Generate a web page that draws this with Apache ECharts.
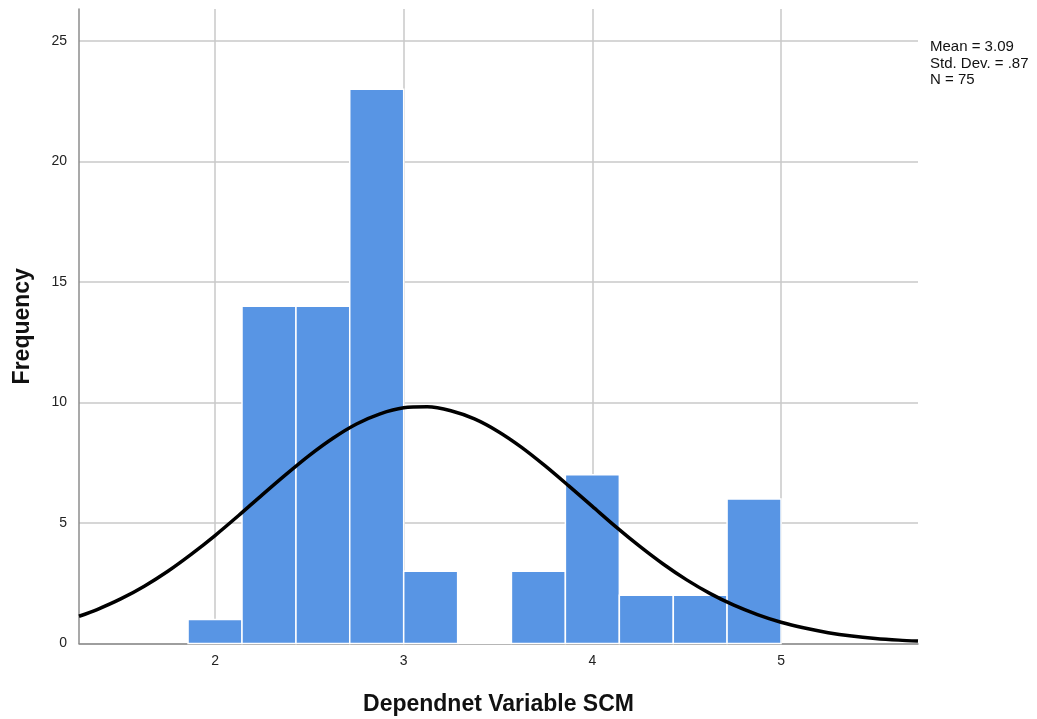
<!DOCTYPE html>
<html>
<head>
<meta charset="utf-8">
<script src="https://cdn.jsdelivr.net/npm/echarts@6/dist/echarts.min.js"></script>
<style>
  html, body { margin: 0; padding: 0; background: #fff; }
  #chart { width: 1037px; height: 719px; }
</style>
</head>
<body>
<div id="chart"></div>
<script>
// histogram bins (left edge, right edge) and counts
const binStart = [1.857, 2.143, 2.429, 2.714, 3.0, 3.286, 3.571, 3.857, 4.143, 4.429, 4.714];
const binEnd = [2.143, 2.429, 2.714, 3.0, 3.286, 3.571, 3.857, 4.143, 4.429, 4.714, 5.0];
const counts = [1, 14, 14, 23, 3, 0, 3, 7, 2, 2, 6];

// normal curve
const curveX = [1.279, 1.375, 1.5, 1.625, 1.75, 1.875, 2.0, 2.125, 2.25, 2.375, 2.5, 2.625, 2.75, 2.875, 3.0, 3.125,
  3.25, 3.375, 3.5, 3.625, 3.75, 3.875, 4.0, 4.125, 4.25, 4.375, 4.5, 4.625, 4.75, 4.875, 5.0, 5.125, 5.25, 5.375,
  5.5, 5.625, 5.726];
const curveY = [1.13, 1.41, 1.85, 2.38, 3.0, 3.71, 4.48, 5.31, 6.17, 7.01, 7.81, 8.52, 9.11, 9.53, 9.78, 9.82,
  9.66, 9.32, 8.8, 8.14, 7.37, 6.54, 5.69, 4.84, 4.04, 3.3, 2.64, 2.07, 1.59, 1.2, 0.88, 0.64, 0.45, 0.31,
  0.21, 0.14, 0.1];

const xTicks = [2, 3, 4, 5];
const yTicks = [0, 5, 10, 15, 20, 25];

const statsLines = ["Mean = 3.09", "Std. Dev. = .87", "N = 75"];

let chartInit = echarts.init(document.getElementById("chart"));

const barData = counts.map((c, i) => [binStart[i], binEnd[i], c]);
const lineData = curveX.map((x, i) => [x, curveY[i]]);

let option = {
  animation: false,
  textStyle: { fontFamily: "Liberation Sans, Arial, sans-serif" },
  grid: { left: 79, top: 9, right: 119, bottom: 75.5, outerBoundsMode: "none" },
  xAxis: {
    type: "value",
    min: 1.279,
    max: 5.726,
    name: "Dependnet Variable SCM",
    nameLocation: "middle",
    nameGap: 50,
    nameTextStyle: { fontSize: 23, fontWeight: "bold", color: "#111" },
    axisLine: { show: true, lineStyle: { color: "#8c8c8c", width: 1.5 } },
    axisTick: { show: false, customValues: xTicks },
    axisLabel: { customValues: xTicks, color: "#222", fontSize: 14, margin: 11 },
    splitLine: { show: true, lineStyle: { color: "#c8c8c8", width: 1.5 } },
  },
  yAxis: {
    type: "value",
    min: 0,
    max: 26.33,
    name: "Frequency",
    nameLocation: "middle",
    nameGap: 45,
    nameRotate: 90,
    nameTextStyle: { fontSize: 23, fontWeight: "bold", color: "#111" },
    axisLine: { show: true, lineStyle: { color: "#8c8c8c", width: 1.5 } },
    axisTick: { show: false, customValues: yTicks },
    axisLabel: { customValues: yTicks, color: "#222", fontSize: 14, margin: 12 },
    splitLine: { show: true, lineStyle: { color: "#c8c8c8", width: 1.5 } },
  },
  series: [
    {
      type: "custom",
      data: barData,
      encode: { x: [0, 1], y: 2 },
      renderItem: function (params, api) {
        const p0 = api.coord([api.value(0), api.value(2)]);
        const p1 = api.coord([api.value(1), 0]);
        return {
          type: "rect",
          shape: { x: p0[0], y: p0[1], width: p1[0] - p0[0], height: p1[1] - p0[1] },
          style: { fill: "#5895e4", stroke: "#ffffff", lineWidth: 1.5 },
        };
      },
      z: 2,
    },
    {
      type: "line",
      data: lineData,
      smooth: 0.3,
      symbol: "none",
      lineStyle: { color: "#000", width: 3.5 },
      z: 3,
    },
  ],
  graphic: [
    {
      type: "text",
      left: 930,
      top: 39,
      style: {
        text: statsLines.join("\n"),
        font: "15px Liberation Sans, Arial, sans-serif",
        fill: "#111",
        lineHeight: 16.5,
      },
    },
  ],
};
chartInit.setOption(option);
</script>
</body>
</html>
